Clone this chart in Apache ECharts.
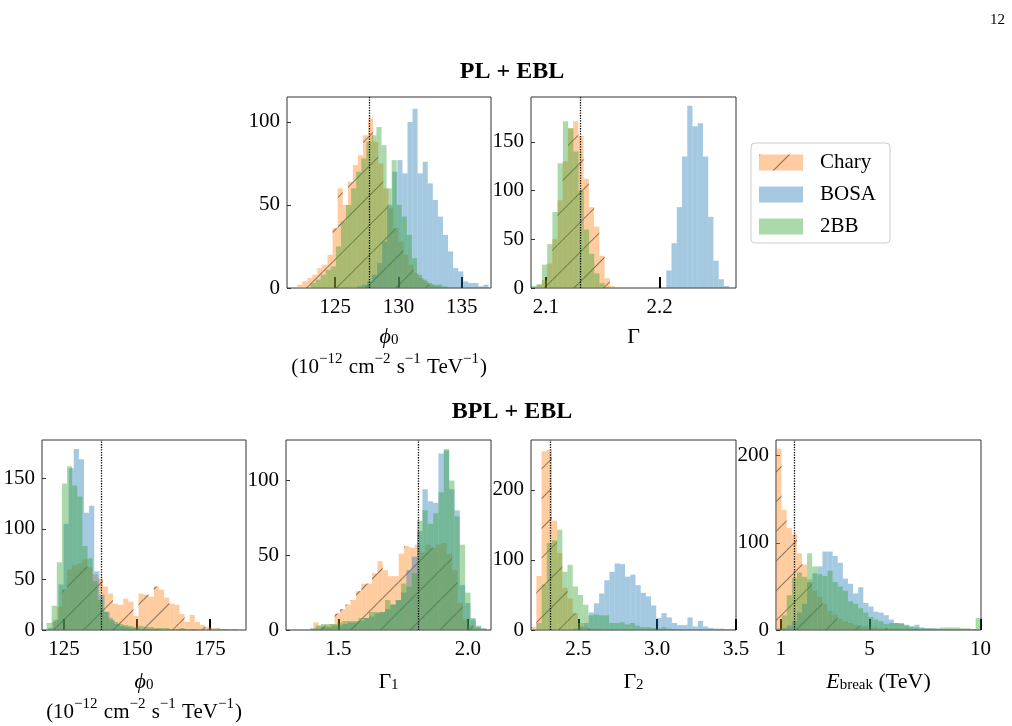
<!DOCTYPE html>
<html>
<head>
<meta charset="utf-8">
<script src="https://cdn.jsdelivr.net/npm/echarts@6/dist/echarts.min.js"></script>
<style>
  html, body { margin: 0; padding: 0; background: #fff; }
  #chart { width: 1012px; height: 726px; }
</style>
</head>
<body>
<div id="chart"></div>
<script>
// ---- PL + EBL : phi0
const plPhiWidth = 0.4;
const plPhiTicks = [125, 130, 135];
const plPhiYTicks = [0, 50, 100];
const plPhiCharyFrom = 122.0;
const plPhiChary = [2, 4, 6, 8, 12, 14, 20, 36, 60, 50, 64, 74, 80, 92, 102, 88, 75, 60, 48, 36, 28, 20, 14, 9, 6, 4, 2, 1];
const plPhiBosaFrom = 126.71;
const plPhiBosa = [1, 2, 4, 8, 15, 28, 50, 70, 77, 69, 100, 108, 69, 76, 63, 53, 43, 32, 22, 12, 10, 4, 3, 3, 1, 2];
const plPhi2bbFrom = 123.06;
const plPhi2bb = [3, 5, 8, 11, 13, 25, 40, 50, 60, 70, 78, 88, 92, 97, 86, 60, 77, 50, 43, 32, 18, 8, 5, 3, 2, 2, 1];

// ---- PL + EBL : Gamma
const plGamWidth = 0.0046;
const plGamTicks = [2.1, 2.2];
const plGamYTicks = [0, 50, 100, 150];
const plGamCharyFrom = 2.0918;
const plGamChary = [3, 8, 25, 50, 90, 130, 164, 171, 156, 112, 83, 63, 33, 10, 2];
const plGamBosaFrom = 2.2058;
const plGamBosa = [18, 46, 83, 135, 187, 166, 169, 135, 73, 28, 9, 2];
const plGam2bbFrom = 2.0874;
const plGam2bb = [2, 4, 24, 45, 78, 128, 171, 164, 140, 100, 60, 35, 15, 5, 1];

// ---- BPL + EBL : phi0
const bplPhiWidth = 1.75;
const bplPhiTicks = [125, 150, 175];
const bplPhiYTicks = [0, 50, 100, 150];
const bplPhiCharyFrom = 120.78;
const bplPhiChary = [8, 23, 40, 60, 64, 66, 70, 62, 55, 51, 43, 36, 26, 25, 31, 28, 14, 36, 35, 33, 43, 40, 32, 26, 25, 16, 8, 15, 8, 5, 3, 2, 1, 1];
const bplPhiBosaFrom = 119.63;
const bplPhiBosa = [2, 10, 45, 105, 160, 179, 169, 116, 123, 58, 35, 18, 10, 6, 4, 3, 2, 2, 1, 1, 1, 1, 0, 1, 0, 1, 1, 0, 1, 0, 0, 1, 0, 0, 1, 0, 1];
const bplPhi2bbFrom = 119.06;
const bplPhi2bb = [7, 24, 67, 145, 162, 143, 132, 83, 71, 48, 30, 18, 12, 8, 6, 5, 4, 3, 4, 3, 3, 2, 2, 2, 1, 1, 2, 1, 1, 1, 1, 0, 1, 2, 1, 1];

// ---- BPL + EBL : Gamma1
const bplG1Width = 0.0206;
const bplG1Ticks = [1.5, 2.0];
const bplG1YTicks = [0, 50, 100];
const bplG1CharyFrom = 1.4034;
const bplG1Chary = [5, 3, 3, 4, 11, 14, 17, 20, 26, 31, 31, 38, 46, 40, 36, 36, 51, 56, 55, 57, 52, 57, 55, 57, 58, 51, 40, 18, 7, 3, 1];
const bplG1BosaFrom = 1.3918;
const bplG1Bosa = [1, 1, 2, 2, 3, 3, 4, 5, 5, 6, 8, 9, 11, 12, 14, 17, 20, 25, 40, 49, 66, 94, 86, 85, 118, 120, 94, 80, 30, 18, 7, 2, 1];
const bplG12bbFrom = 1.3918;
const bplG12bb = [1, 3, 4, 4, 4, 5, 6, 6, 6, 8, 8, 12, 12, 12, 20, 17, 20, 31, 29, 38, 73, 80, 71, 78, 92, 121, 100, 76, 57, 25, 8, 3, 1];

// ---- BPL + EBL : Gamma2
const bplG2Width = 0.033;
const bplG2Ticks = [2.5, 3.0, 3.5];
const bplG2YTicks = [0, 100, 200];
const bplG2CharyFrom = 2.2;
const bplG2Chary = [4, 77, 255, 257, 156, 110, 60, 45, 24, 10, 4, 2, 1];
const bplG2BosaFrom = 2.466;
const bplG2Bosa = [2, 5, 10, 25, 38, 52, 71, 83, 95, 94, 76, 79, 64, 53, 48, 35, 17, 24, 18, 10, 7, 7, 18, 5, 13, 5, 3, 2, 2, 1, 1];
const bplG22bbFrom = 2.2;
const bplG22bb = [0, 10, 65, 124, 128, 143, 83, 93, 62, 50, 36, 21, 22, 21, 21, 10, 10, 11, 8, 10, 6, 4, 4, 3, 2, 4, 2, 1, 1];

// ---- BPL + EBL : E_break
const bplEbWidth = 0.23;
const bplEbTicks = [1, 5, 10];
const bplEbYTicks = [0, 100, 200];
const bplEbCharyFrom = 0.81;
const bplEbChary = [208, 138, 117, 110, 88, 75, 58, 45, 38, 30, 22, 18, 13, 10, 8, 6, 5, 4, 3, 3, 2, 2, 2, 2, 1, 2, 1, 1, 0, 1, 1, 0, 1, 0, 0, 1, 0, 0, 1];
const bplEbBosaFrom = 0.81;
const bplEbBosa = [0, 2, 5, 10, 20, 30, 55, 65, 73, 90, 90, 85, 77, 59, 53, 42, 49, 31, 27, 21, 20, 17, 12, 8, 8, 6, 4, 6, 3, 2, 2, 2, 1, 1, 1, 1, 1, 1, 1];
const bplEb2bbFrom = 0.81;
const bplEb2bb = [2, 17, 40, 60, 66, 61, 88, 73, 64, 62, 68, 55, 50, 45, 33, 30, 25, 20, 15, 12, 10, 7, 8, 8, 7, 5, 4, 3, 2, 2, 2, 1, 3, 3, 3, 3, 2, 2, 1, 14];

const SERIF = "'Liberation Serif', 'DejaVu Serif', serif";
const charyColor = 'rgba(255,127,14,0.4)';
const bosaColor = 'rgba(31,119,180,0.4)';
const bbColor = 'rgba(44,160,44,0.4)';

const rich = {
  i: { fontFamily: SERIF, fontStyle: 'italic', fontSize: 22, lineHeight: 26, color: '#000', verticalAlign: 'bottom' },
  r: { fontFamily: SERIF, fontSize: 22, lineHeight: 26, color: '#000', verticalAlign: 'bottom' },
  b: { fontFamily: SERIF, fontSize: 15, lineHeight: 15, color: '#000', verticalAlign: 'bottom' },
  u: { fontFamily: SERIF, fontSize: 21, lineHeight: 30, color: '#000', verticalAlign: 'bottom' },
  p: { fontFamily: SERIF, fontSize: 15, lineHeight: 15, color: '#000', verticalAlign: 'top', padding: [4, 1, 0, 0] }
};
const unitLine = '{u|(10}{p|−12}{u| cm}{p|−2}{u| s}{p|−1}{u| TeV}{p|−1}{u|)}';

const panels = [
  { grid: { left: 287, top: 97, width: 204, height: 191 }, xmin: 121.2, xmax: 137.3, ymax: 115,
    ticks: plPhiTicks, yticks: plPhiYTicks, vline: 127.7, w: plPhiWidth,
    chary: [plPhiCharyFrom, plPhiChary], bosa: [plPhiBosaFrom, plPhiBosa], bb: [plPhi2bbFrom, plPhi2bb],
    name: '{i|ϕ}{b|0}\n' + unitLine, gap: 34, dec: 0 },
  { grid: { left: 531, top: 97, width: 205, height: 191 }, xmin: 2.087, xmax: 2.267, ymax: 196,
    ticks: plGamTicks, yticks: plGamYTicks, vline: 2.128, w: plGamWidth,
    chary: [plGamCharyFrom, plGamChary], bosa: [plGamBosaFrom, plGamBosa], bb: [plGam2bbFrom, plGam2bb],
    name: '{r|Γ}', gap: 34, dec: 1 },
  { grid: { left: 42, top: 440, width: 204, height: 190 }, xmin: 117.5, xmax: 187.3, ymax: 188,
    ticks: bplPhiTicks, yticks: bplPhiYTicks, vline: 137.9, w: bplPhiWidth,
    chary: [bplPhiCharyFrom, bplPhiChary], bosa: [bplPhiBosaFrom, bplPhiBosa], bb: [bplPhi2bbFrom, bplPhi2bb],
    name: '{i|ϕ}{b|0}\n' + unitLine, gap: 37, dec: 0 },
  { grid: { left: 286, top: 440, width: 205, height: 190 }, xmin: 1.298, xmax: 2.089, ymax: 127,
    ticks: bplG1Ticks, yticks: bplG1YTicks, vline: 1.807, w: bplG1Width,
    chary: [bplG1CharyFrom, bplG1Chary], bosa: [bplG1BosaFrom, bplG1Bosa], bb: [bplG12bbFrom, bplG12bb],
    name: '{r|Γ}{b|1}', gap: 37, dec: 1 },
  { grid: { left: 531, top: 440, width: 205, height: 190 }, xmin: 2.199, xmax: 3.5, ymax: 271,
    ticks: bplG2Ticks, yticks: bplG2YTicks, vline: 2.316, w: bplG2Width,
    chary: [bplG2CharyFrom, bplG2Chary], bosa: [bplG2BosaFrom, bplG2Bosa], bb: [bplG22bbFrom, bplG22bb],
    name: '{r|Γ}{b|2}', gap: 37, dec: 1 },
  { grid: { left: 776, top: 440, width: 205, height: 190 }, xmin: 0.79, xmax: 10.02, ymax: 218,
    ticks: bplEbTicks, yticks: bplEbYTicks, vline: 1.61, w: bplEbWidth,
    chary: [bplEbCharyFrom, bplEbChary], bosa: [bplEbBosaFrom, bplEbBosa], bb: [bplEb2bbFrom, bplEb2bb],
    name: '{i|E}{b|break}{r| (TeV)}', gap: 37, dec: 0 }
];

const hatch = {
  symbol: 'rect', symbolSize: 1,
  dashArrayX: [1, 0], dashArrayY: [1, 20],
  rotation: -Math.PI / 4,
  color: 'rgba(0,0,0,0.45)'
};

function toBins(from, w, counts) {
  return counts.map((c, i) => [from + (i + 0.5) * w, c]);
}

const grids = [], xAxes = [], yAxes = [], series = [];
panels.forEach((p, k) => {
  grids.push(Object.assign({ show: true, borderColor: '#333', borderWidth: 1, backgroundColor: 'transparent' }, p.grid));
  xAxes.push({
    gridIndex: k, type: 'value', min: p.xmin, max: p.xmax,
    axisLine: { show: false }, splitLine: { show: false },
    axisTick: { inside: true, length: 11, customValues: p.ticks, lineStyle: { color: '#000', width: 2 } },
    axisLabel: { customValues: p.ticks, fontFamily: SERIF, fontSize: 21, color: '#000', margin: 9,
      formatter: v => v.toFixed(p.dec) },
    name: p.name, nameLocation: 'middle', nameGap: p.gap,
    nameTextStyle: { rich: rich }
  });
  yAxes.push({
    gridIndex: k, type: 'value', min: 0, max: p.ymax,
    axisLine: { show: false }, splitLine: { show: false },
    axisTick: { inside: true, length: 4, customValues: p.yticks, lineStyle: { color: '#333', width: 1 } },
    axisLabel: { customValues: p.yticks, fontFamily: SERIF, fontSize: 21, color: '#000', margin: 7 }
  });
  const bw = p.w / (p.xmax - p.xmin) * p.grid.width;
  const base = { type: 'bar', xAxisIndex: k, yAxisIndex: k, barWidth: bw, barGap: '-100%',
    emphasis: { disabled: true }, animation: false };
  series.push(Object.assign({}, base, { name: 'Chary', itemStyle: { color: charyColor, decal: hatch },
    data: toBins(p.chary[0], p.w, p.chary[1]) }));
  series.push(Object.assign({}, base, { name: 'BOSA', itemStyle: { color: bosaColor },
    data: toBins(p.bosa[0], p.w, p.bosa[1]) }));
  series.push(Object.assign({}, base, { name: '2BB', itemStyle: { color: bbColor },
    data: toBins(p.bb[0], p.w, p.bb[1]),
    markLine: { silent: true, symbol: 'none', label: { show: false }, animation: false,
      lineStyle: { type: 'dotted', color: '#000', width: 1.3 }, data: [{ xAxis: p.vline }] } }));
});

const chart = echarts.init(document.getElementById('chart'));
chart.setOption({
  animation: false,
  backgroundColor: '#fff',
  grid: grids,
  xAxis: xAxes,
  yAxis: yAxes,
  series: series,
  legend: {
    data: ['Chary', 'BOSA', '2BB'], orient: 'vertical', left: 751, top: 143,
    padding: [9, 14, 6, 8], itemGap: 11, itemWidth: 44, itemHeight: 16, icon: 'rect',
    borderColor: '#ccc', borderWidth: 1, borderRadius: 4, selectedMode: false,
    textStyle: { fontFamily: SERIF, fontSize: 21, color: '#000', padding: [0, 0, 0, 12] }
  },
  graphic: [
    { type: 'text', x: 512, y: 72, style: { text: 'PL + EBL', textAlign: 'center', textVerticalAlign: 'middle',
      font: 'bold 24px ' + SERIF, fill: '#000' } },
    { type: 'text', x: 512, y: 412, style: { text: 'BPL + EBL', textAlign: 'center', textVerticalAlign: 'middle',
      font: 'bold 24px ' + SERIF, fill: '#000' } },
    { type: 'text', x: 1005, y: 20, style: { text: '12', textAlign: 'right', textVerticalAlign: 'middle',
      font: '15px ' + SERIF, fill: '#000' } }
  ]
});
</script>
</body>
</html>
